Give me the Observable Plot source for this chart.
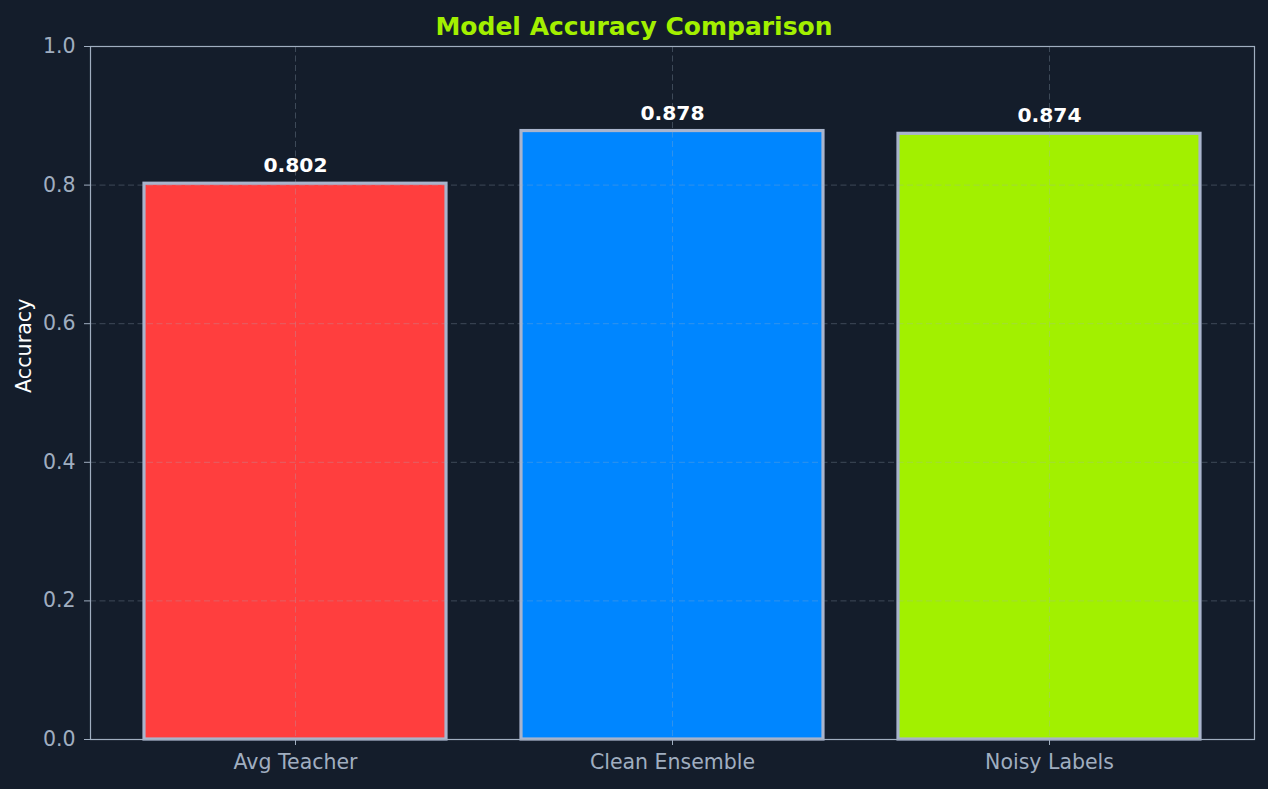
<!DOCTYPE html>
<html>
<head>
<meta charset="utf-8">
<script src="https://cdn.jsdelivr.net/npm/d3@7"></script>
<script src="https://cdn.jsdelivr.net/npm/@observablehq/plot@0.6"></script>
<style>
  html, body { margin: 0; padding: 0; background: #141d2b; }
  #wrap { position: relative; width: 1268px; height: 789px; }
  #title { position: absolute; left: 0; top: 0; width: 1268px; height: 53px; line-height: 53px; text-align: center;
    font-family: "DejaVu Sans", sans-serif; font-weight: bold; font-size: 25px; color: #a3f000; }
  svg { display: block; }
</style>
</head>
<body>
<div id="wrap">
<div id="chart"></div>
<div id="title">Model Accuracy Comparison</div>
</div>
<script>
const models = ["Avg Teacher", "Clean Ensemble", "Noisy Labels"];
const accuracy = [0.802, 0.878, 0.874];
const colors = ["#ff3e3e", "#0086ff", "#a2f000"];
const yTicks = [0, 0.2, 0.4, 0.6, 0.8, 1.0];

const data = models.map((m, i) => ({model: m, acc: accuracy[i], color: colors[i]}));
const axisColor = "#a0aec0";
const font = "DejaVu Sans, sans-serif";

const chart = Plot.plot({
  width: 1268,
  height: 789,
  marginTop: 46,
  marginBottom: 50,
  marginLeft: 90,
  marginRight: 14,
  style: {background: "#141d2b", fontFamily: font, fontSize: "20px", color: axisColor},
  x: {domain: models, paddingInner: 0.2, paddingOuter: 0.14, label: null},
  y: {domain: [0, 1], label: null},
  marks: [
    Plot.barY(data, {x: "model", y: "acc", fill: "color", stroke: "#a9b4cc", strokeWidth: 3.2}),
    Plot.ruleY(yTicks.slice(1, -1), {stroke: axisColor, strokeOpacity: 0.3, strokeDasharray: "6,3.5"}),
    Plot.ruleX(models, {x: d => d, stroke: axisColor, strokeOpacity: 0.3, strokeDasharray: "6,3.5"}),
    Plot.frame({stroke: axisColor, strokeWidth: 1.2}),
    Plot.axisY({ticks: yTicks, tickFormat: d3.format(".1f"), tickSize: 6, tickPadding: 9,
      stroke: axisColor, fill: axisColor, fontSize: 20.5, label: null}),
    Plot.axisX({tickSize: 6, tickPadding: 9, stroke: axisColor, fill: axisColor, fontSize: 20.5, label: null}),
    Plot.text(["Accuracy"], {frameAnchor: "left", rotate: -90, dx: -66, fill: "#ffffff", fontSize: 20.7}),
    Plot.text(data, {x: "model", y: "acc", text: d => d.acc.toFixed(3), dy: -18, fill: "#ffffff",
      fontWeight: "bold", fontSize: 20.3})
  ]
});
document.getElementById("chart").appendChild(chart);
</script>
</body>
</html>
